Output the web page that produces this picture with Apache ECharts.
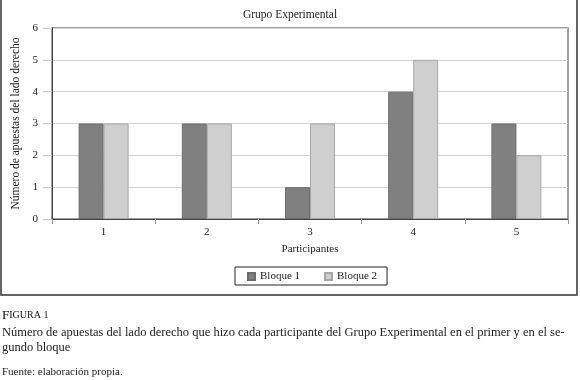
<!DOCTYPE html>
<html>
<head>
<meta charset="utf-8">
<script src="https://cdn.jsdelivr.net/npm/echarts@6/dist/echarts.min.js"></script>
<style>html,body{margin:0;padding:0;background:#fff}#c{width:580px;height:380px}</style>
</head>
<body>
<div id="c"></div>
<script>
var categories = ['1', '2', '3', '4', '5'];
var bloque1 = [3, 3, 1, 4, 3];
var bloque2 = [3, 3, 3, 5, 2];
var seriesNames = ['Bloque 1', 'Bloque 2'];
var yTicks = [0, 1, 2, 3, 4, 5, 6];

var F = 'Liberation Serif';
var chart = echarts.init(document.getElementById('c'), null, {renderer: 'canvas'});
chart.setOption({
  animation: false,
  backgroundColor: '#fff',
  title: {
    text: 'Grupo Experimental', left: 'center', top: 4,
    textStyle: {fontFamily: F, fontSize: 11.5, fontWeight: 'normal', color: '#222'}
  },
  legend: {
    data: seriesNames, left: 235, top: 267, width: 151,
    padding: [4, 10, 3, 12], itemGap: 24, itemWidth: 7, itemHeight: 7,
    borderColor: '#222', borderWidth: 1,
    textStyle: {fontFamily: F, fontSize: 11, color: '#222'},
    icon: 'rect'
  },
  grid: {
    left: 52, right: 12, top: 28, bottom: 161, show: true,
    borderColor: '#808080', borderWidth: 1.5, backgroundColor: '#fff'
  },
  xAxis: {
    type: 'category', data: categories,
    name: 'Participantes', nameLocation: 'middle', nameGap: 25,
    nameTextStyle: {fontFamily: F, fontSize: 11, color: '#222'},
    axisLine: {lineStyle: {color: '#444', width: 1}},
    axisTick: {show: true, length: 5, lineStyle: {color: '#999'}},
    axisLabel: {fontFamily: F, fontSize: 11, color: '#222', margin: 8}
  },
  yAxis: {
    type: 'value', min: yTicks[0], max: yTicks[yTicks.length - 1], interval: 1,
    name: 'Número de apuestas del lado derecho', nameLocation: 'middle', nameGap: 28,
    nameTextStyle: {fontFamily: F, fontSize: 11.5, color: '#222'},
    axisLine: {show: true, lineStyle: {color: '#444', width: 1}},
    axisTick: {show: true, length: 9, lineStyle: {color: '#ccc'}},
    axisLabel: {fontFamily: F, fontSize: 11, color: '#222', margin: 14},
    splitLine: {lineStyle: {color: '#d4d4d4'}}
  },
  series: [
    {name: seriesNames[0], type: 'bar', data: bloque1, barWidth: 25, barGap: '0%',
     itemStyle: {color: '#808080', borderColor: '#6c6c6c', borderWidth: 1}},
    {name: seriesNames[1], type: 'bar', data: bloque2, barWidth: 25,
     itemStyle: {color: '#cfcfcf', borderColor: '#a8a8a8', borderWidth: 1}}
  ],
  graphic: [
    {type: 'rect', shape: {x: 1, y: -2, width: 576, height: 297},
     style: {fill: 'none', stroke: '#333', lineWidth: 1.5}, silent: true, z: 100},
    {type: 'text', left: 2, top: 309, style: {
      text: '{a|F}{b|IGURA 1}',
      rich: {a: {fontFamily: F, fontSize: 13, fill: '#111'}, b: {fontFamily: F, fontSize: 10, fill: '#111'}}
    }},
    {type: 'text', left: 2, top: 326, style: {
      text: 'Número de apuestas del lado derecho que hizo cada participante del Grupo Experimental en el primer y en el se-',
      font: '12.5px "Liberation Serif"', fill: '#222'
    }},
    {type: 'text', left: 2, top: 341, style: {
      text: 'gundo bloque', font: '12.5px "Liberation Serif"', fill: '#222'
    }},
    {type: 'text', left: 2, top: 367, style: {
      text: 'Fuente: elaboración propia.', font: '11px "Liberation Serif"', fill: '#222'
    }}
  ]
});
</script>
</body>
</html>
